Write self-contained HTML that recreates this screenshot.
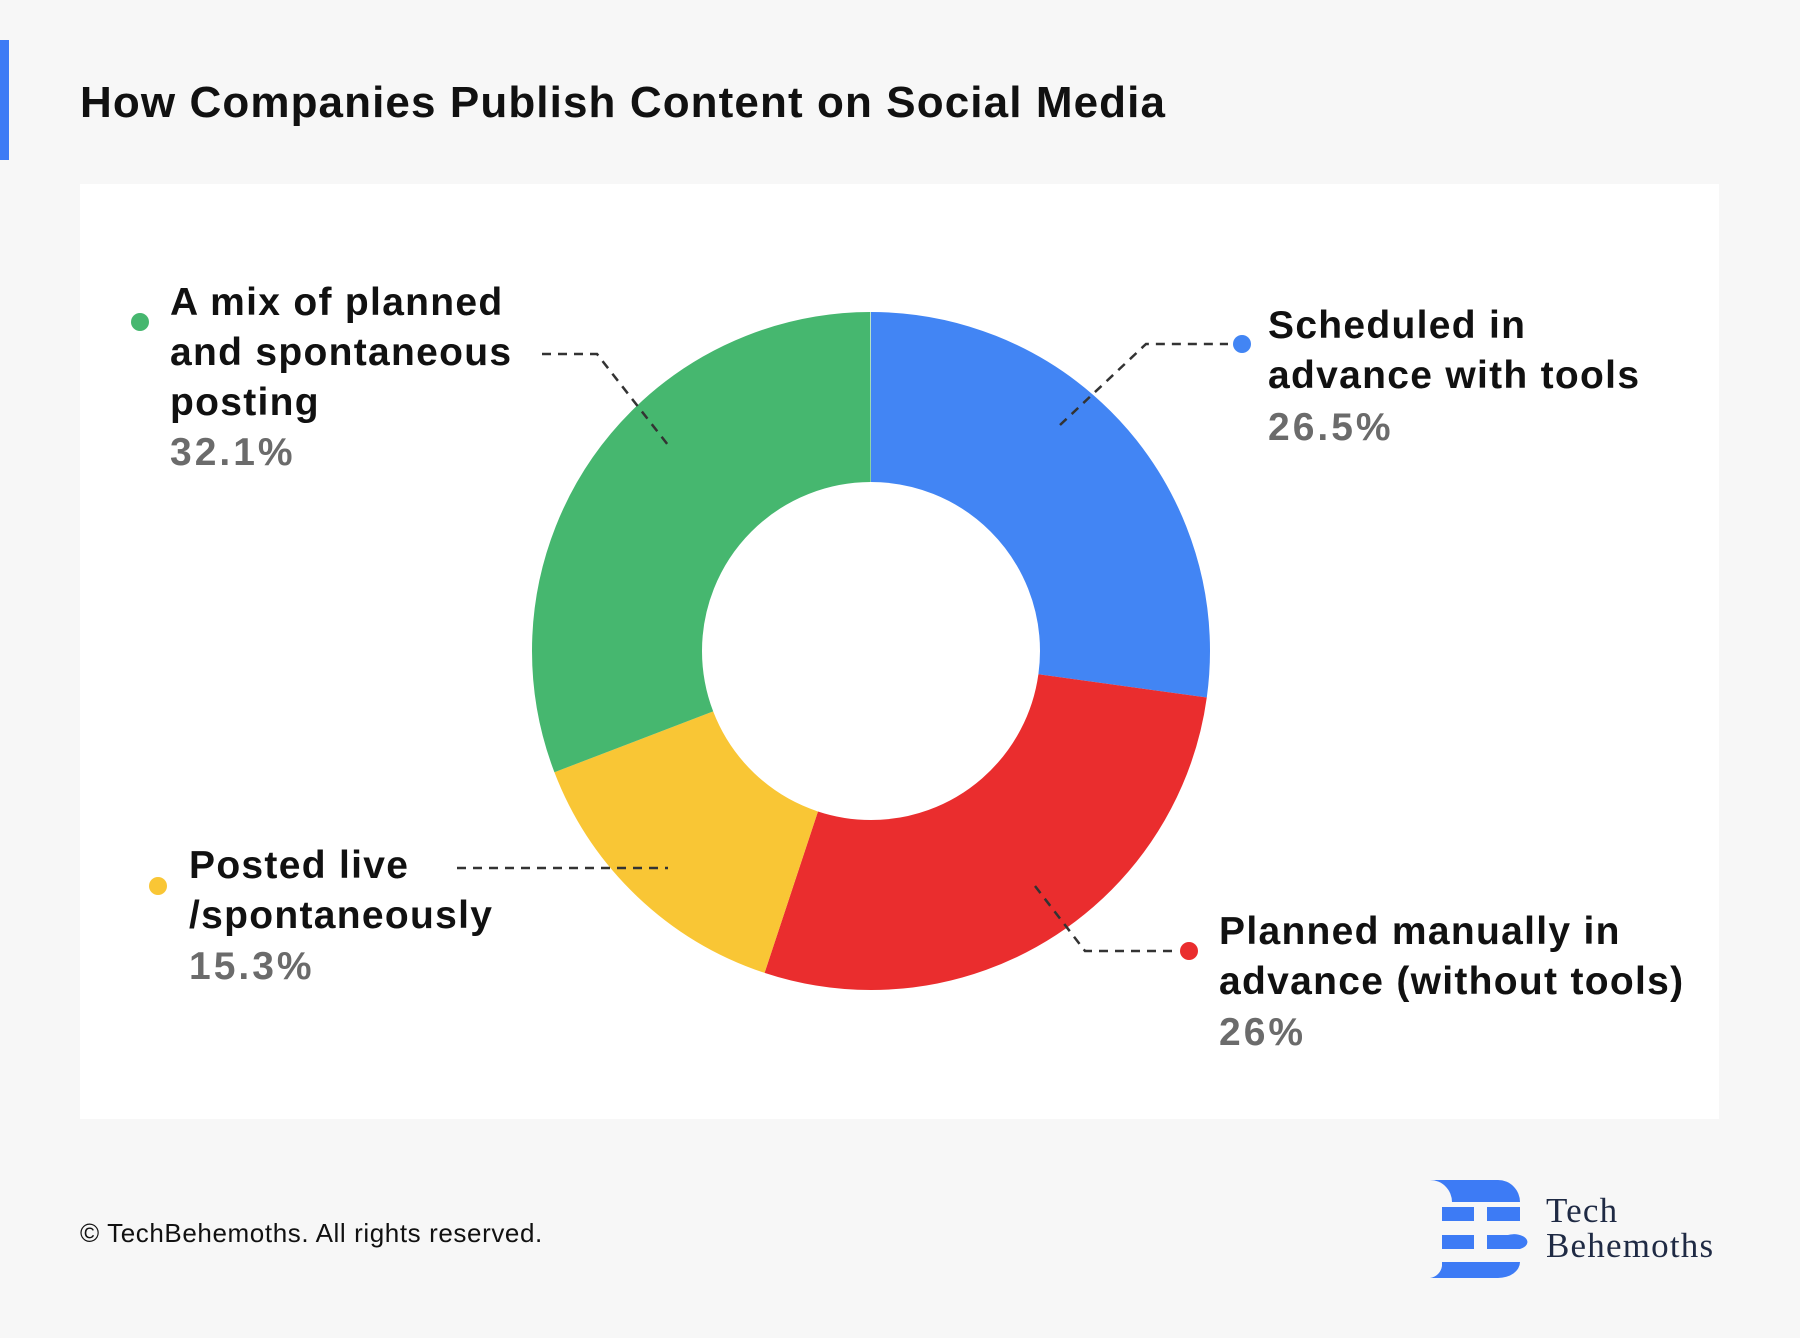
<!DOCTYPE html>
<html><head><meta charset="utf-8"><style>
html,body{margin:0;padding:0;background:#f7f7f7;}
svg{display:block}
text{font-family:"Liberation Sans",sans-serif;}
</style></head><body>
<svg width="1800" height="1338" viewBox="0 0 1800 1338" xmlns="http://www.w3.org/2000/svg">
<rect width="1800" height="1338" fill="#f7f7f7"/>
<rect x="0" y="40" width="9" height="120" fill="#3d7bf5"/>
<text x="80" y="117" font-size="44" font-weight="bold" fill="#111" letter-spacing="1.1">How Companies Publish Content on Social Media</text>
<rect x="80" y="184" width="1639" height="935" fill="#fff"/>
<g transform="rotate(-90 871 651)" fill="none" stroke-width="170">
<circle cx="871" cy="651" r="254" pathLength="100" stroke="#4285f4" stroke-dasharray="27.2 100" stroke-dashoffset="0"/>
<circle cx="871" cy="651" r="254" pathLength="100" stroke="#ea2d2e" stroke-dasharray="27.9 100" stroke-dashoffset="-27.2"/>
<circle cx="871" cy="651" r="254" pathLength="100" stroke="#f9c635" stroke-dasharray="14.1 100" stroke-dashoffset="-55.1"/>
<circle cx="871" cy="651" r="254" pathLength="100" stroke="#46b76f" stroke-dasharray="30.8 100" stroke-dashoffset="-69.2"/>
</g>
<g stroke="#333" stroke-width="2.5" stroke-dasharray="9 7" fill="none">
<polyline points="542,354 597,354 668,445"/>
<polyline points="457,868 668,868"/>
<polyline points="1060,425 1146,344 1228,344"/>
<polyline points="1035,886 1085,951 1177,951"/>
</g>
<circle cx="140" cy="322" r="9" fill="#46b76f"/>
<circle cx="158" cy="886" r="9" fill="#f9c635"/>
<circle cx="1242" cy="344" r="9" fill="#4285f4"/>
<circle cx="1189" cy="951" r="9" fill="#ea2d2e"/>
<g font-size="39" font-weight="bold" fill="#111" letter-spacing="1.3">
<text x="170" y="315">A mix of planned</text>
<text x="170" y="365">and spontaneous</text>
<text x="170" y="415">posting</text>
<text x="189" y="878">Posted live</text>
<text x="189" y="928">/spontaneously</text>
<text x="1268" y="338">Scheduled in</text>
<text x="1268" y="388">advance with tools</text>
<text x="1219" y="944">Planned manually in</text>
<text x="1219" y="994">advance (without tools)</text>
</g>
<g font-size="39" font-weight="bold" fill="#6b6b6b" letter-spacing="3">
<text x="170" y="465">32.1%</text>
<text x="189" y="979">15.3%</text>
<text x="1268" y="440">26.5%</text>
<text x="1219" y="1045">26%</text>
</g>
<text x="80" y="1242" font-size="26" fill="#111" letter-spacing="0.6">© TechBehemoths. All rights reserved.</text>
<g fill="#3d7bf5">
<path d="M1430,1180 H1498 A22,22 0 0 1 1520,1202 H1452 A22,22 0 0 0 1430,1180 Z"/>
<rect x="1442" y="1207" width="32" height="14"/><rect x="1487" y="1207" width="33" height="14"/>
<path d="M1442,1235 H1474 V1249 H1442Z M1487,1235 H1508 A12,7 0 0 1 1520,1249 H1487Z"/>
<path d="M1442,1262 H1520 A22,16 0 0 1 1498,1278 H1430 A14,14 0 0 0 1442,1266Z"/>
</g>
<g font-size="35" fill="#1f2a44" letter-spacing="1.2">
<text x="1546" y="1222" style="font-family:'Liberation Serif',serif">Tech</text>
<text x="1546" y="1257" style="font-family:'Liberation Serif',serif">Behemoths</text>
</g>
</svg>
</body></html>
